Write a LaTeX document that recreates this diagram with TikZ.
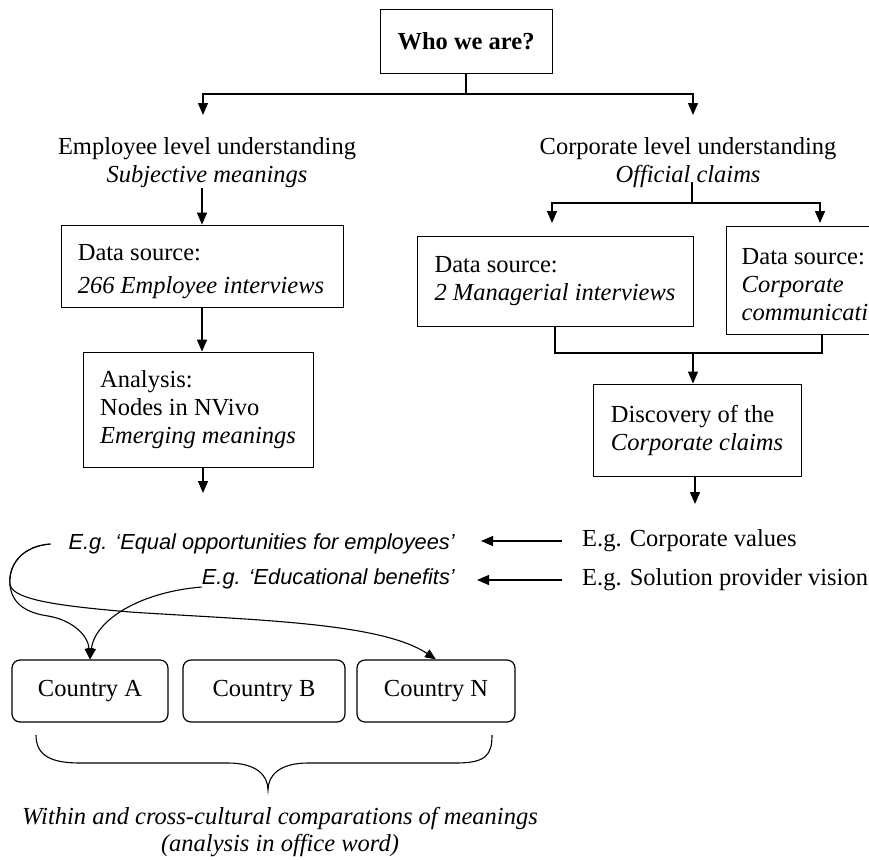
\documentclass[tikz,border=0pt]{standalone}
\usepackage{fontspec}
\setmainfont{Liberation Serif}
\newfontfamily\egfont{Liberation Sans}
\usetikzlibrary{arrows.meta}
\newcommand\fsA{\fontsize{24.5}{28}\selectfont}
\newcommand\fsB{\fontsize{24.5}{33}\selectfont}
\newcommand\fsC{\fontsize{24.5}{27}\selectfont}
\newcommand\fsE{\egfont\itshape\fontsize{21.8}{26}\selectfont}
\begin{document}
\begin{tikzpicture}[x=1pt,y=-1pt,
  box/.style={draw, line width=0.8pt, inner sep=0pt, align=left, font=\fsA},
  cbox/.style={draw, line width=1.2pt, rounded corners=8pt, inner sep=0pt, minimum height=62pt, font=\fsA},
  txt/.style={inner sep=0pt, font=\fsA},
  egtxt/.style={inner sep=0pt, font=\fsE},
  conn/.style={line width=1.3pt},
  arr/.style={conn, -{Triangle[length=12pt,width=10pt]}},
  arrs/.style={line width=1.1pt, -{Triangle[length=11pt,width=9pt]}}]
\clip (0,0) rectangle (869,859);
\fill[white] (0,0) rectangle (869,859);
% top
\node[box, minimum width=172pt, minimum height=64pt, font=\bfseries\fsA] (who) at (466,41) {Who we are?};
\node[txt, align=center] (emp) at (207,163) {Employee level understanding\\ \textit{Subjective meanings}};
\node[txt, align=center] (corp) at (688,163) {Corporate level understanding\\ \textit{Official claims}};
\coordinate (split1) at (466,94);
\coordinate (empArr) at (203,115);
\coordinate (corpArr) at (693,115);
\draw[conn] (who.south) -- (split1);
\draw[arr] (split1) -| (empArr);
\draw[arr] (split1) -| (corpArr);
% left column
\node[box, minimum width=282pt, minimum height=82pt] (ds1) at (202,266) {};
\node[txt, align=left, font=\fsB] (ds1t) at (201,272) {Data source:\\ \textit{266 Employee interviews}};
\draw[arr] (ds1.north |- emp.south) -- (ds1.north);
\node[box, minimum width=230pt, minimum height=115pt] (ana) at (198,409.5) {Analysis:\\ Nodes in NVivo\\ \textit{Emerging meanings}};
\draw[arr] (ds1.south) -- (ds1.south |- ana.north);
\coordinate (anaEnd) at (203,493);
\draw[arr] (anaEnd |- ana.south) -- (anaEnd);
% right column
\coordinate (split2) at (692,203);
\coordinate (mgrArr) at (552,223);
\coordinate (ccArr) at (820,223);
\draw[conn] ([yshift=6pt]split2 |- corp.south) -- (split2);
\draw[arr] (split2) -| (mgrArr);
\draw[arr] (split2) -| (ccArr);
\node[box, minimum width=276pt, minimum height=90pt] (mgr) at (555,281) {Data source:\\ \textit{2 Managerial interviews}};
\node[box, minimum width=192pt, minimum height=108pt] (cc) at (822,280) {};
\node[txt, align=left] (cct) at (822,285) {Data source:\\ \textit{Corporate}\\ \textit{communications}};
\node[box, minimum width=208pt, minimum height=92pt] (disc) at (697,430) {Discovery of the\\ \textit{Corporate claims}};
\coordinate (join) at (693,353);
\draw[conn] (mgr.south) |- (cc.south |- join) -- (cc.south);
\draw[arr] (join) -- (join |- disc.north);
\coordinate (discEnd) at (695,504);
\draw[arr] (discEnd |- disc.south) -- (discEnd);
% examples
\node[egtxt, anchor=east] (eq) at (455,544) {E.g. ‘Equal opportunities for employees’};
\node[egtxt, anchor=east] (ed) at (455,579) {E.g. ‘Educational benefits’};
\node[txt, anchor=west] (cv) at (582,541) {E.g. Corporate values};
\node[txt, anchor=west] (sp) at (582,580) {E.g. Solution provider vision};
\draw[arr] ([xshift=-20pt]cv.west) -- ([xshift=-101pt]cv.west);
\draw[arr] ([xshift=-20pt]sp.west) -- ([xshift=-105pt]sp.west);
% countries
\node[cbox, minimum width=156pt] (ca) at (90,691) {Country A};
\node[cbox, minimum width=162pt] (cb) at (264,691) {Country B};
\node[cbox, minimum width=158pt] (cn) at (436,691) {Country N};
\coordinate (c1) at ([xshift=-18pt]eq.west);
\draw[arrs] (c1) .. controls (22,546) and (8,565) .. (10,585)
   .. controls (12,605) and (28,613) .. (48,616)
   .. controls (72,620) and (88,635) .. (ca.north);
\draw[arrs] (c1) .. controls (22,546) and (8,565) .. (10,585)
   .. controls (14,600) and (60,606) .. (130,612)
   .. controls (250,620) and (380,622) .. (cn.north);
\draw[arrs] ([yshift=-8pt]ed.west) .. controls (140,592) and (95,620) .. (ca.north);
% brace
\draw[line width=1.1pt] (36,735) .. controls (36,755) and (50,763) .. (80,763) -- (228,763)
   .. controls (256,763) and (268,775) .. (268,790)
   .. controls (268,775) and (280,763) .. (308,763) -- (456,763)
   .. controls (486,763) and (492,755) .. (492,735);
\node[txt, align=center, font=\itshape\fsC] (concl) at (280,832) {Within and cross-cultural comparations of meanings\\ (analysis in office word)};
\end{tikzpicture}
\end{document}
